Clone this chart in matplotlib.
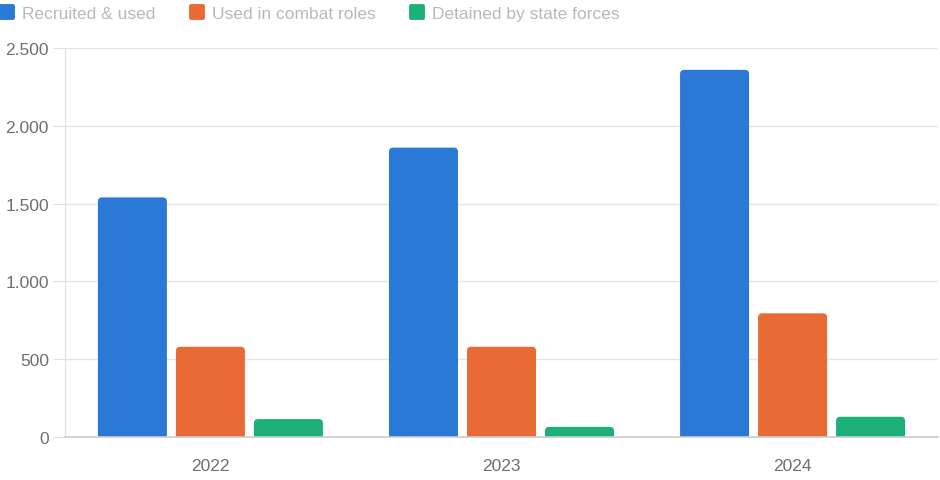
import matplotlib.pyplot as plt
from matplotlib.patches import FancyBboxPatch
from matplotlib.lines import Line2D
from matplotlib.markers import MarkerStyle
from matplotlib.ticker import FuncFormatter
import numpy as np

years = ["2022", "2023", "2024"]
series_names = ["Recruited & used", "Used in combat roles", "Detained by state forces"]
recruited = [1540, 1860, 2360]
combat = [580, 580, 795]
detained = [115, 65, 130]
colors = ["#2b79d6", "#e96a35", "#1caf78"]

plt.rcParams['font.family'] = ['Liberation Sans', 'DejaVu Sans']

fig = plt.figure(figsize=(9.4, 4.81), dpi=100)
ax = fig.add_axes([0.069, 0.0894, 0.929, 0.8086])

x = np.arange(len(years))
width = 0.237
step = 0.268
sink = 40  # push bar bottoms under the axis so only top corners look rounded

for i, (vals, col) in enumerate(zip([recruited, combat, detained], colors)):
    bars = ax.bar(x + (i - 1) * step, np.array(vals) + sink, width,
                  bottom=-sink, color=col)
    for r in bars:
        r.set_visible(False)
        p = FancyBboxPatch((r.get_x(), r.get_y()), r.get_width(), r.get_height(),
                           boxstyle="round,pad=0,rounding_size=0.014",
                           mutation_aspect=1850, facecolor=col, edgecolor="none")
        ax.add_patch(p)

ax.set_xlim(-0.5, 2.5)
ax.set_ylim(0, 2500)
ax.set_yticks([0, 500, 1000, 1500, 2000, 2500])
ax.yaxis.set_major_formatter(FuncFormatter(lambda v, _: f"{int(v):,}".replace(",", ".")))
ax.set_xticks(x)
ax.set_xticklabels(years)

ax.grid(axis="y", color="#e4e4e4", linewidth=1)
ax.set_axisbelow(True)
for s in ["top", "right"]:
    ax.spines[s].set_visible(False)
ax.spines["left"].set_color("#e0e0e0")
ax.spines["bottom"].set_color("#cccccc")
ax.spines["bottom"].set_linewidth(1.2)
ax.tick_params(axis="y", length=8.5, color="#e0e0e0", labelcolor="#6e6e6e",
               labelsize=12.5, pad=3)
ax.tick_params(axis="x", length=0, labelcolor="#6e6e6e", labelsize=12.5, pad=15)

handles = [Line2D([], [], linestyle="none",
                  marker=MarkerStyle("s", joinstyle="round"), markersize=8,
                  markerfacecolor=c, markeredgecolor=c, markeredgewidth=2.8)
           for c in colors]
fig.legend(handles, series_names, loc="upper left", bbox_to_anchor=(-0.017, 1.018),
           ncol=3, frameon=False, fontsize=12.5, labelcolor="#b9b9b2",
           handlelength=0.85, handletextpad=0.45, columnspacing=1.95)

plt.savefig("out.png")
